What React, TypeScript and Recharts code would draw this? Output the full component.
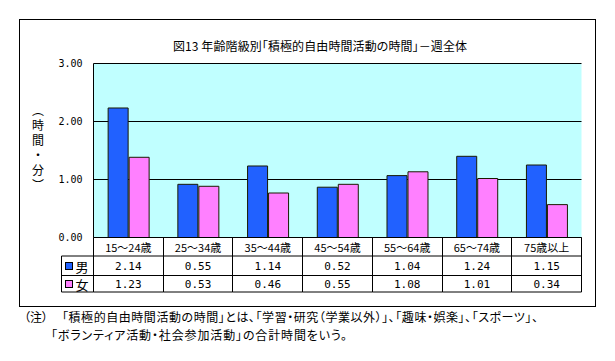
import React from 'react';
import { BarChart, Bar, XAxis, YAxis, CartesianGrid } from 'recharts';

const categories = ['15～24歳', '25～34歳', '35～44歳', '45～54歳', '55～64歳', '65～74歳', '75歳以上'];
// hours (converted from h.mm shown in the table)
const maleHours = [2.233, 0.917, 1.233, 0.867, 1.067, 1.4, 1.25];
const femaleHours = [1.383, 0.883, 0.767, 0.917, 1.133, 1.017, 0.567];
const maleLabels = ['2.14', '0.55', '1.14', '0.52', '1.04', '1.24', '1.15'];
const femaleLabels = ['1.23', '0.53', '0.46', '0.55', '1.08', '1.01', '0.34'];
const yTicks = [0, 1, 2, 3];
const seriesNames = ['男', '女'];

const data = categories.map((c, i) => ({ name: c, male: maleHours[i], female: femaleHours[i] }));

const W = 615;
const H = 361;
const M = { top: 63.5, right: 33.5, bottom: 68.5, left: 33.5 };
const YW = 60;
const XH = 55;
const PLOT_W = W - M.left - M.right - YW;
const BAND = PLOT_W / categories.length;
const BLUE = '#2161FF';
const PINK = '#FF80FF';
const JP = '"Noto Sans CJK JP", sans-serif';
const MONO = '"DejaVu Sans Mono", monospace';
const snap = (v: number) => Math.floor(v) + 0.5;

const R1 = 18.5;
const R2 = 38;
const R3 = 54.5;

const TableTick = (props: any) => {
  const { x, y, payload } = props;
  const i = payload.index;
  const left = snap(x - BAND / 2);
  const right = snap(x + BAND / 2);
  const els: any[] = [];
  els.push(<line key="r" x1={right} y1={y} x2={right} y2={y + R3} stroke="#000" />);
  els.push(<line key="h1" x1={left} y1={y + R1} x2={right} y2={y + R1} stroke="#000" />);
  els.push(<line key="h2" x1={left} y1={y + R2} x2={right} y2={y + R2} stroke="#000" />);
  els.push(<line key="h3" x1={left} y1={y + R3} x2={right} y2={y + R3} stroke="#000" />);
  if (i === 0) {
    const lx = left - 32;
    els.push(<line key="l" x1={left} y1={y} x2={left} y2={y + R3} stroke="#000" />);
    els.push(<line key="ll" x1={lx} y1={y + R1} x2={lx} y2={y + R3} stroke="#000" />);
    els.push(<line key="lh1" x1={lx} y1={y + R1} x2={left} y2={y + R1} stroke="#000" />);
    els.push(<line key="lh2" x1={lx} y1={y + R2} x2={left} y2={y + R2} stroke="#000" />);
    els.push(<line key="lh3" x1={lx} y1={y + R3} x2={left} y2={y + R3} stroke="#000" />);
    [BLUE, PINK].forEach((col, k) => {
      const cy = k === 0 ? y + (R1 + R2) / 2 : y + (R2 + R3) / 2;
      els.push(<rect key={'sq' + k} x={lx + 4} y={Math.round(cy) - 3.5} width={7} height={7} fill={col} stroke="#000" />);
      els.push(
        <text key={'sn' + k} x={lx + 14} y={cy + 0.5} fontSize={13} fontFamily={JP} fill="#000" dominantBaseline="central">
          {seriesNames[k]}
        </text>
      );
    });
  }
  els.push(
    <text key="c" x={x} y={y + R1 / 2 + 0.5} textAnchor="middle" dominantBaseline="central" fontSize={11} fontFamily={JP} fill="#000">
      {categories[i]}
    </text>
  );
  els.push(
    <text key="m" x={x} y={y + (R1 + R2) / 2 + 0.5} textAnchor="middle" dominantBaseline="central" fontSize={11} fontFamily={MONO} fill="#000">
      {maleLabels[i]}
    </text>
  );
  els.push(
    <text key="f" x={x} y={y + (R2 + R3) / 2 + 0.5} textAnchor="middle" dominantBaseline="central" fontSize={11} fontFamily={MONO} fill="#000">
      {femaleLabels[i]}
    </text>
  );
  return <g>{els}</g>;
};

export default function App() {
  return (
    <div style={{ position: 'absolute', left: 0, top: 0, width: W, height: H, background: '#fff' }}>
      <svg width={W} height={H} style={{ position: 'absolute', left: 0, top: 0 }}>
        <rect x={19.5} y={19.5} width={576} height={287} fill="#fff" stroke="#000" />
        <text x={173} y={45} fontSize={12} fontFamily={JP} dominantBaseline="central" textLength={294} lengthAdjust="spacing" style={{ fontFeatureSettings: '"palt"' }}>
          図13 年齢階級別「積極的自由時間活動の時間」－週全体
        </text>
        <text x={38} y={104} fontSize={12} fontFamily={JP} style={{ writingMode: 'vertical-rl', letterSpacing: '3px' }}>
          （時間・分）
        </text>
        <text x={24} y={316} fontSize={12} fontFamily={JP} dominantBaseline="central" style={{ fontFeatureSettings: '"palt"' }}>
          （注）
        </text>
        <text x={62} y={316} fontSize={12} fontFamily={JP} dominantBaseline="central" textLength={476} lengthAdjust="spacing" style={{ fontFeatureSettings: '"palt"' }}>
          「積極的自由時間活動の時間」とは、「学習・研究（学業以外）」、「趣味・娯楽」、「スポーツ」、
        </text>
        <text x={51} y={334} fontSize={12} fontFamily={JP} dominantBaseline="central" textLength={296} lengthAdjust="spacing" style={{ fontFeatureSettings: '"palt"' }}>
          「ボランティア活動・社会参加活動」の合計時間をいう。
        </text>
      </svg>
      <div style={{ position: 'absolute', left: 0, top: 0 }}>
        <BarChart width={W} height={H} data={data} margin={M} barCategoryGap="21%" barGap={1}>
          <CartesianGrid yAxisId="left" vertical={false} horizontal stroke="#000" fill="#C0FFFF" fillOpacity={1} />
          <XAxis
            dataKey="name"
            height={XH}
            axisLine={{ stroke: '#000' }}
            tickLine={false}
            tickSize={0}
            tickMargin={0}
            interval={0}
            tick={<TableTick />}
          />
          <YAxis
            yAxisId="left"
            width={YW}
            domain={[0, 3]}
            ticks={yTicks}
            interval={0}
            tickFormatter={(v: number) => v.toFixed(2)}
            axisLine={{ stroke: '#000' }}
            tickLine={false}
            tickSize={0}
            tickMargin={11}
            tick={{ fill: '#000', fontSize: 10, fontFamily: MONO }}
          />
          <YAxis yAxisId="right" orientation="right" width={0} domain={[0, 3]} ticks={yTicks} tick={false} tickLine={false} axisLine={{ stroke: '#000' }} />
          <Bar yAxisId="left" dataKey="male" fill={BLUE} stroke="#1a1a00" strokeWidth={1} isAnimationActive={false} />
          <Bar yAxisId="left" dataKey="female" fill={PINK} stroke="#1a1a00" strokeWidth={1} isAnimationActive={false} />
        </BarChart>
      </div>
    </div>
  );
}
